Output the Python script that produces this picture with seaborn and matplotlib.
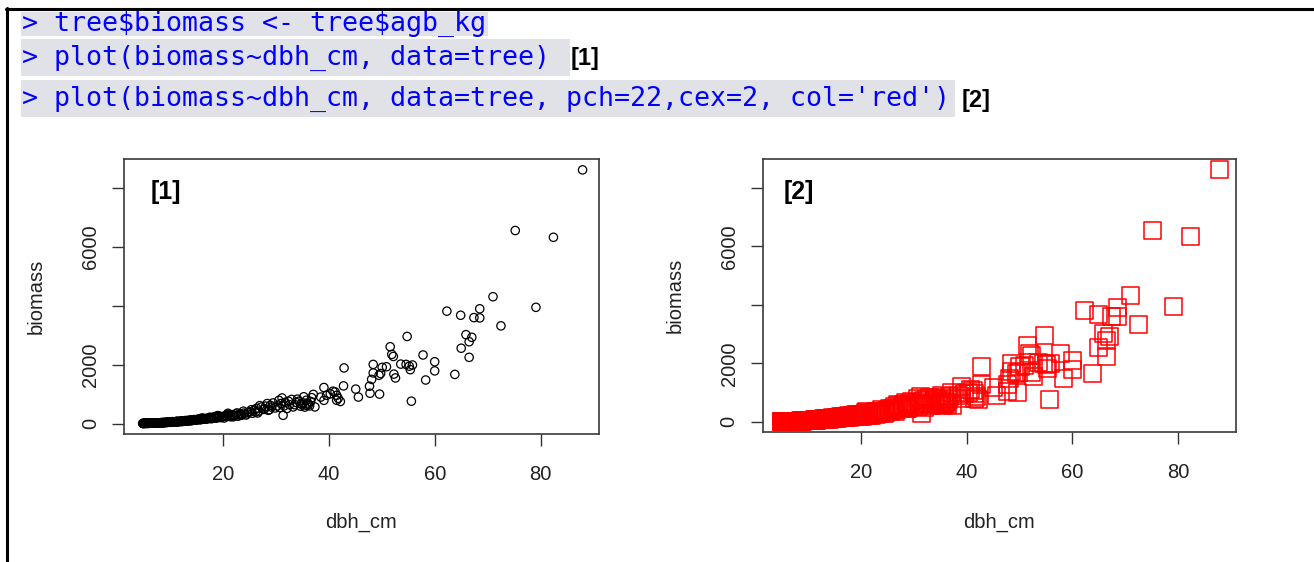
import matplotlib
matplotlib.use("Agg")
import matplotlib.pyplot as plt
from matplotlib.patches import Rectangle
from matplotlib.lines import Line2D
import numpy as np
import pandas as pd
import seaborn as sns

# ---------------- data ----------------
code_lines = [
    "> tree$biomass <- tree$agb_kg",
    "> plot(biomass~dbh_cm, data=tree)",
    "> plot(biomass~dbh_cm, data=tree, pch=22,cex=2, col='red')",
]
code_tags = ["", "[1]", "[2]"]
panel_tags = ["[1]", "[2]"]
x_label = "dbh_cm"
y_label = "biomass"
x_ticks = [20, 40, 60, 80]
y_ticks = [0, 2000, 4000, 6000, 8000]
y_tick_labels = ["0", "2000", "", "6000", ""]

dbh_cm = [
    4.9, 5.0, 5.1, 5.2, 5.3, 5.5, 5.6, 5.8, 5.9, 6.0, 6.2, 6.3, 6.5, 6.6, 6.8, 7.0, 7.1,
    7.3, 7.5, 7.6, 7.8, 8.0, 8.1, 8.3, 8.5, 8.7, 8.9, 9.0, 9.2, 9.4, 9.6, 9.8, 9.9,
    5.4, 6.1, 6.7, 7.2, 7.9, 8.4, 9.1, 9.7,
    5.0, 5.3, 5.7, 6.0, 6.4, 6.9, 7.4, 7.7, 8.2, 8.6, 9.3, 9.5, 5.2, 5.8, 6.4, 7.0, 7.7, 8.8,
    10.1, 10.3, 10.4, 10.6, 10.8, 11.0, 11.1, 11.3, 11.5, 11.7, 11.9, 12.0, 12.2, 12.4,
    12.6, 12.8, 13.0, 13.1, 13.3, 13.5, 13.7, 13.9, 14.1, 14.3, 14.5, 14.7, 14.9,
    10.2, 10.7, 11.2, 11.6, 12.1, 12.5, 12.9, 13.4, 13.8, 14.2, 14.6, 15.0, 15.4, 15.9,
    16.4, 16.9, 17.4, 17.9, 18.4, 18.8, 19.3, 19.7, 10.5, 11.4, 12.3, 13.2, 14.0, 16.1,
    17.6, 19.0,
    15.1, 15.3, 15.6, 15.8, 16.0, 16.3, 16.5, 16.8, 17.0, 17.3, 17.5, 17.8, 18.0, 18.3,
    18.6, 18.9, 19.2, 19.5, 19.8,
    20.1, 20.4, 20.8, 21.1, 21.5, 21.8, 22.2, 22.5, 22.9, 23.3, 23.6, 24.0, 24.4, 24.8,
    20.3, 20.9, 21.4, 22.0, 22.7, 23.1, 23.9, 24.6, 25.4, 26.2, 27.0, 27.9, 28.4, 29.2,
    21.0, 23.5, 26.6, 28.8,
    25.2, 25.6, 26.0, 26.4, 26.8, 27.3, 27.7, 28.1, 28.6, 29.0, 29.5, 29.9,
    30.3, 30.6, 31.0, 31.2, 31.4, 31.8, 32.1, 32.6, 33.0, 33.3, 33.9, 34.4, 34.8, 35.0,
    35.3, 35.5, 35.8, 35.8, 36.0, 36.2, 36.4, 36.8, 37.1, 37.4,
    30.8, 31.6, 32.4, 33.6, 34.1, 35.2, 36.6, 34.7,
    38.5, 39.1, 39.1, 39.6, 40.3, 40.8, 41.2, 41.5, 41.5, 41.8, 42.2, 42.8, 42.9,
    45.1, 45.6, 47.7, 47.8, 48.1, 48.4, 48.4, 49.5, 49.6, 49.8, 50.1, 50.9, 51.6, 51.9,
    52.2, 52.3, 52.6, 53.6, 54.6, 54.8, 55.2, 55.4, 55.6, 55.8, 57.8, 58.3, 60.0, 60.0,
    62.3, 63.8, 64.9, 65.0, 65.9, 66.5, 66.5, 67.0, 67.4, 68.5, 68.5, 71.0, 72.5,
    75.2, 79.1, 82.4, 87.9,
]
biomass = [
    4, 6, 5, 7, 6, 8, 9, 7, 10, 11, 10, 12, 14, 12, 16, 15, 18,
    17, 21, 19, 23, 25, 24, 28, 27, 33, 30, 36, 34, 41, 39, 46, 44,
    8, 12, 15, 19, 26, 31, 40, 49,
    3, 5, 9, 7, 13, 17, 14, 24, 22, 35, 38, 43, 10, 6, 9, 20, 18, 29,
    50, 47, 55, 52, 58, 61, 57, 66, 63, 72, 69, 78, 74, 83,
    80, 90, 87, 95, 92, 101, 98, 110, 106, 115, 112, 124, 119,
    42, 60, 70, 55, 85, 76, 100, 88, 120, 105, 135, 118, 155, 135,
    175, 150, 200, 165, 230, 185, 260, 200, 65, 80, 68, 105, 95, 190,
    215, 270,
    130, 138, 125, 150, 142, 160, 148, 172, 158, 185, 170, 195, 178, 210,
    190, 225, 205, 240, 215,
    235, 260, 245, 280, 230, 300, 270, 325, 250, 340, 300, 355, 290, 380,
    190, 310, 270, 230, 360, 290, 420, 330, 470, 390, 610, 500, 680, 560,
    350, 280, 360, 470,
    400, 350, 460, 520, 420, 560, 480, 590, 450, 620, 700, 530,
    600, 790, 680, 870, 280, 720, 510, 640, 820, 565, 714, 760, 680, 640,
    910, 560, 620, 793, 700, 650, 600, 880, 990, 565,
    540, 600, 760, 640, 830, 700, 750, 590,
    900, 1225, 790, 960, 1010, 1100, 1076, 960, 793, 860, 750, 1280, 1890,
    1170, 900, 1270, 1030, 1500, 2010, 1720, 1640, 1000, 1700, 1910, 1930, 2610, 2350,
    2280, 1680, 1550, 2020, 2010, 2960, 1950, 1830, 760, 1990, 2330, 1480, 2100, 1790,
    3820, 1670, 3680, 2560, 3020, 2780, 2250, 2930, 3600, 3900, 3590, 4310, 3320,
    6560, 3950, 6330, 8620,
]

tree = pd.DataFrame({"dbh_cm": dbh_cm, "biomass": biomass})

# ---------------- figure ----------------
W, H = 1314, 562
sns.set_style("white")
fig = plt.figure(figsize=(W / 100, H / 100), dpi=100, facecolor="white")


def fx(px):
    return px / W


def fy(py):
    return 1 - py / H


# screenshot frame
fig.add_artist(Line2D([fx(7), fx(7)], [fy(8), fy(562)], color="black", lw=2.2,
                      transform=fig.transFigure))
fig.add_artist(Line2D([fx(6), fx(1314)], [fy(9), fy(9)], color="black", lw=2.2,
                      transform=fig.transFigure))

tag_font = dict(family="Liberation Sans", fontweight="bold", color="black")

# console code lines with grey highlight
hl = [(21, 12, 488, 36), (21, 39, 570, 76), (21, 80, 955, 117)]
text_y = [24, 58, 99]
tag_x = [585, 585, 976]
for (x0, y0, x1, y1), line, ty, tag, tx in zip(hl, code_lines, text_y, code_tags, tag_x):
    fig.add_artist(Rectangle((fx(x0), fy(y1)), fx(x1 - x0), (y1 - y0) / H,
                             transform=fig.transFigure, facecolor="#e1e2e7",
                             edgecolor="none", zorder=0))
    fig.text(fx(22), fy(ty), line, family="DejaVu Sans Mono", fontsize=19.2,
             color="#0000ff", va="center", ha="left", parse_math=False)
    if tag:
        fig.text(fx(tx), fy(ty + 1), tag, fontsize=17, va="center", ha="center",
                 **tag_font)

tick_font = dict(family="Liberation Sans", size=14.5)

axes_px = [(124, 159, 599, 434), (762.7, 159, 1236, 432.3)]
tag_px = [(166, 192), (799, 192)]

ax1 = fig.add_axes([fx(axes_px[0][0]), fy(axes_px[0][3]),
                    fx(axes_px[0][2] - axes_px[0][0]), (axes_px[0][3] - axes_px[0][1]) / H])
ax2 = fig.add_axes([fx(axes_px[1][0]), fy(axes_px[1][3]),
                    fx(axes_px[1][2] - axes_px[1][0]), (axes_px[1][3] - axes_px[1][1]) / H])

sns.scatterplot(data=tree, x="dbh_cm", y="biomass", ax=ax1, marker="o", s=36,
                facecolors="none", edgecolor="black", linewidth=0.9, legend=False)
sns.scatterplot(data=tree, x="dbh_cm", y="biomass", ax=ax2, marker="s", s=150,
                facecolors="none", edgecolor="#ff0000", linewidth=1.1, legend=False)

for ax, (x0, y0, x1, y1), tag, (tgx, tgy) in zip([ax1, ax2], axes_px, panel_tags, tag_px):
    ax.set_facecolor("white")
    ax.set_xlim(1.38, 91.0)
    ax.set_ylim(-355, 8990)
    ax.set_xticks(x_ticks, labels=[str(t) for t in x_ticks], **tick_font, color="#222222")
    ax.set_yticks(y_ticks, labels=y_tick_labels, rotation=90, va="center",
                  **tick_font, color="#222222")
    ax.tick_params(axis="x", length=8.6, width=1.0, color="#333333", pad=13.5,
                   bottom=True, top=False)
    ax.tick_params(axis="y", length=8.8, width=1.0, color="#333333", pad=8.5,
                   left=True, right=False)
    for sp in ax.spines.values():
        sp.set_visible(True)
        sp.set_linewidth(1.2)
        sp.set_color("#3a3a3a")
    ax.set_xlabel(x_label, family="Liberation Sans", fontsize=14.5, color="#222222",
                  va="center")
    ax.set_ylabel(y_label, family="Liberation Sans", fontsize=14.5, color="#222222",
                  va="center")
    hpx = y1 - y0
    wpx = x1 - x0
    ax.xaxis.set_label_coords(0.5, -(522 - y1) / hpx)
    ax.yaxis.set_label_coords(-(87.5) / wpx, 0.5)
    fig.text(fx(tgx), fy(tgy), tag, fontsize=18, ha="center", va="center", **tag_font)

fig.savefig("out.png", dpi=100, facecolor="white")
